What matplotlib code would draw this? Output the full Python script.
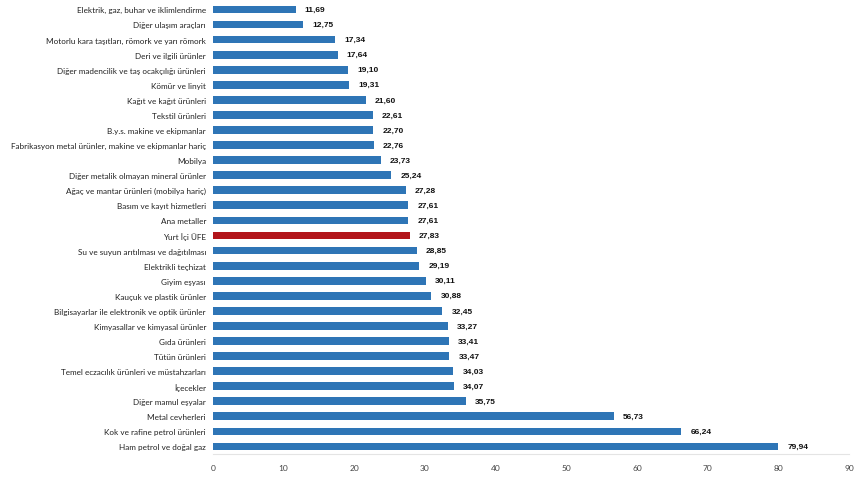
import matplotlib
matplotlib.use("Agg")
import matplotlib.pyplot as plt

# ── Data (top to bottom) ──────────────────────────────────────────────────────
categories = [
    "Elektrik, gaz, buhar ve iklimlendirme",
    "Diğer ulaşım araçları",
    "Motorlu kara taşıtları, römork ve yarı römork",
    "Deri ve ilgili ürünler",
    "Diğer madencilik ve taş ocakçılığı ürünleri",
    "Kömür ve linyit",
    "Kağıt ve kağıt ürünleri",
    "Tekstil ürünleri",
    "B.y.s. makine ve ekipmanlar",
    "Fabrikasyon metal ürünler, makine ve ekipmanlar hariç",
    "Mobilya",
    "Diğer metalik olmayan mineral ürünler",
    "Ağaç ve mantar ürünleri (mobilya hariç)",
    "Basım ve kayıt hizmetleri",
    "Ana metaller",
    "Yurt İçi ÜFE",
    "Su ve suyun arıtılması ve dağıtılması",
    "Elektrikli teçhizat",
    "Giyim eşyası",
    "Kauçuk ve plastik ürünler",
    "Bilgisayarlar ile elektronik ve optik ürünler",
    "Kimyasallar ve kimyasal ürünler",
    "Gıda ürünleri",
    "Tütün ürünleri",
    "Temel eczacılık ürünleri ve müstahzarları",
    "İçecekler",
    "Diğer mamul eşyalar",
    "Metal cevherleri",
    "Kok ve rafine petrol ürünleri",
    "Ham petrol ve doğal gaz",
]
values = [
    11.69, 12.75, 17.34, 17.64, 19.10, 19.31, 21.60, 22.61, 22.70, 22.76,
    23.73, 25.24, 27.28, 27.61, 27.61, 27.83, 28.85, 29.19, 30.11, 30.88,
    32.45, 33.27, 33.41, 33.47, 34.03, 34.07, 35.75, 56.73, 66.24, 79.94,
]
highlight = "Yurt İçi ÜFE"
x_ticks = [0, 10, 20, 30, 40, 50, 60, 70, 80, 90]

BLUE = "#2E75B6"
RED = "#B2151B"

# ── Plot ──────────────────────────────────────────────────────────────────────
fig = plt.figure(figsize=(8.62, 4.81), dpi=100)
ax = fig.add_axes([0.247, 0.054, 0.738, 0.940])

n = len(categories)
ypos = list(range(n))
colors = [RED if c == highlight else BLUE for c in categories]
ax.barh(ypos, values, height=0.52, color=colors)

for y, v in zip(ypos, values):
    ax.text(v + 1.3, y, f"{v:.2f}".replace(".", ","), va="center", ha="left",
            fontsize=6.0, fontweight="bold", family="Liberation Sans",
            color="#111111")

ax.set_ylim(n - 0.5, -0.5)
ax.set_xlim(0, 90)
ax.set_yticks(ypos)
ax.set_yticklabels(categories, fontsize=5.9, family="Lato", color="#222222")
ax.set_xticks(x_ticks)
ax.set_xticklabels([str(t) for t in x_ticks], fontsize=6.0, family="Lato",
                   color="#444444")
ax.tick_params(axis="both", length=0)
ax.tick_params(axis="y", pad=5)
ax.tick_params(axis="x", pad=7)

for side in ["top", "right", "left"]:
    ax.spines[side].set_visible(False)
ax.spines["bottom"].set_color("#E4E4E4")
ax.spines["bottom"].set_linewidth(0.8)

plt.savefig("out.png", dpi=100)
plt.close()
